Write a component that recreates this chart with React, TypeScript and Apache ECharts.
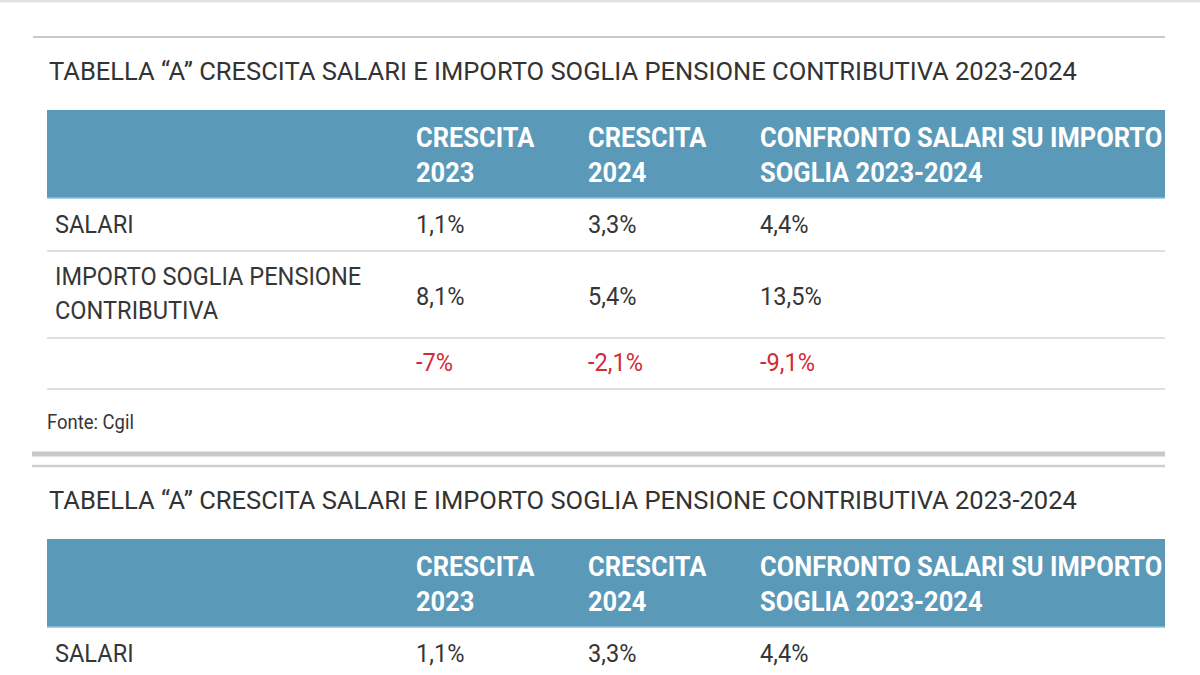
import React, { useEffect, useRef } from "react";
import * as echarts from "echarts";

const title = "TABELLA \u201CA\u201D CRESCITA SALARI E IMPORTO SOGLIA PENSIONE CONTRIBUTIVA 2023-2024";
const columns = ["CRESCITA\n2023", "CRESCITA\n2024", "CONFRONTO SALARI SU IMPORTO\nSOGLIA 2023-2024"];
const rowLabels = ["SALARI", "IMPORTO SOGLIA PENSIONE\nCONTRIBUTIVA", ""];
const salari = ["1,1%", "3,3%", "4,4%"];
const sogliaPensione = ["8,1%", "5,4%", "13,5%"];
const differenza = ["-7%", "-2,1%", "-9,1%"];
const source = "Fonte: Cgil";

const FONT = "Roboto";
const BLUE = "#5b99b9";
const TEXT = "#363636";
const RED = "#d42a36";

function measure(text: string, font: string): number {
  const c = document.createElement("canvas").getContext("2d");
  if (!c) return text.length * 10;
  c.font = font;
  return c.measureText(text).width;
}

export default function App() {
  const ref = useRef<HTMLDivElement>(null);
  useEffect(() => {
    if (!ref.current) return;
    const chart = echarts.init(ref.current, null, { renderer: "svg" });

    const titleSize = 26.5;
    const headSize = 27;
    const bodySize = 25.5;
    const srcSize = 21;
    const titleScale = 1028 / measure(title, `${titleSize}px ${FONT}`);
    const headScale =
      (118 + 403) /
      (measure("CRESCITA", `bold ${headSize}px ${FONT}`) +
        measure("CONFRONTO SALARI SU IMPORTO", `bold ${headSize}px ${FONT}`));
    const bodyScale =
      (307 + 78) /
      (measure("IMPORTO SOGLIA PENSIONE", `${bodySize}px ${FONT}`) + measure("SALARI", `${bodySize}px ${FONT}`));
    const srcScale = 87 / measure(source, `${srcSize}px ${FONT}`);

    const colX = [416, 588, 760];
    const left = 47;
    const right = 1165;

    const txt = (
      text: string,
      x: number,
      y: number,
      size: number,
      scale: number,
      fill: string,
      weight: string = "normal",
      lineHeight?: number
    ) => ({
      type: "text",
      x,
      y,
      scaleX: scale,
      silent: true,
      style: {
        text,
        fill,
        font: `${weight} ${size}px ${FONT}`,
        fontFamily: FONT,
        fontSize: size,
        fontWeight: weight,
        lineHeight: lineHeight ?? size * 1.2,
        align: "left",
        verticalAlign: "middle",
      },
    });

    const hline = (x1: number, x2: number, y: number, w: number, color: string) => ({
      type: "line",
      silent: true,
      shape: { x1, y1: y, x2, y2: y },
      style: { stroke: color, lineWidth: w },
    });

    const elements: any[] = [];
    elements.push(hline(0, 1200, 1, 3, "#e2e2e2"));
    elements.push(hline(33, right, 37, 2, "#c9c9c9"));

    const table = (off: number, full: boolean) => {
      elements.push(txt(title, 49, 71 + off, titleSize, titleScale, "#333333"));
      elements.push({
        type: "rect",
        silent: true,
        shape: { x: left, y: 110 + off, width: right - left, height: 88 },
        style: { fill: BLUE },
      });
      elements.push(hline(left, right, 198 + off, 1.5, "#8cc3dc"));
      columns.forEach((c, i) => {
        elements.push(txt(c, colX[i], 155 + off, headSize, headScale, "#ffffff", "bold", 35));
      });
      elements.push(txt(rowLabels[0], 55, 224 + off, bodySize, bodyScale, TEXT));
      salari.forEach((v, i) => elements.push(txt(v, colX[i], 224 + off, bodySize, bodyScale, TEXT)));
      if (!full) return;
      elements.push(hline(left, right, 251 + off, 2, "#e0e0e0"));
      elements.push(txt(rowLabels[1], 55, 293 + off, bodySize, bodyScale, TEXT, "normal", 34));
      sogliaPensione.forEach((v, i) => elements.push(txt(v, colX[i], 296 + off, bodySize, bodyScale, TEXT)));
      elements.push(hline(left, right, 338 + off, 2, "#e0e0e0"));
      if (rowLabels[2]) elements.push(txt(rowLabels[2], 55, 362 + off, bodySize, bodyScale, TEXT));
      differenza.forEach((v, i) => elements.push(txt(v, colX[i], 362 + off, bodySize, bodyScale, RED)));
      elements.push(hline(left, right, 389 + off, 2, "#e0e0e0"));
      elements.push(txt(source, 47, 422 + off, srcSize, srcScale, TEXT));
    };

    table(0, true);
    elements.push(hline(32, right, 454, 5, "#c8c8c8"));
    elements.push(hline(32, right, 466, 2.5, "#cfcfcf"));
    table(429, false);

    chart.setOption({
      animation: false,
      backgroundColor: "#ffffff",
      graphic: { elements },
    });
    return () => chart.dispose();
  }, []);

  return (
    <div
      ref={ref}
      style={{ position: "absolute", left: 0, top: 0, width: 1200, height: 675, background: "#fff" }}
    />
  );
}
